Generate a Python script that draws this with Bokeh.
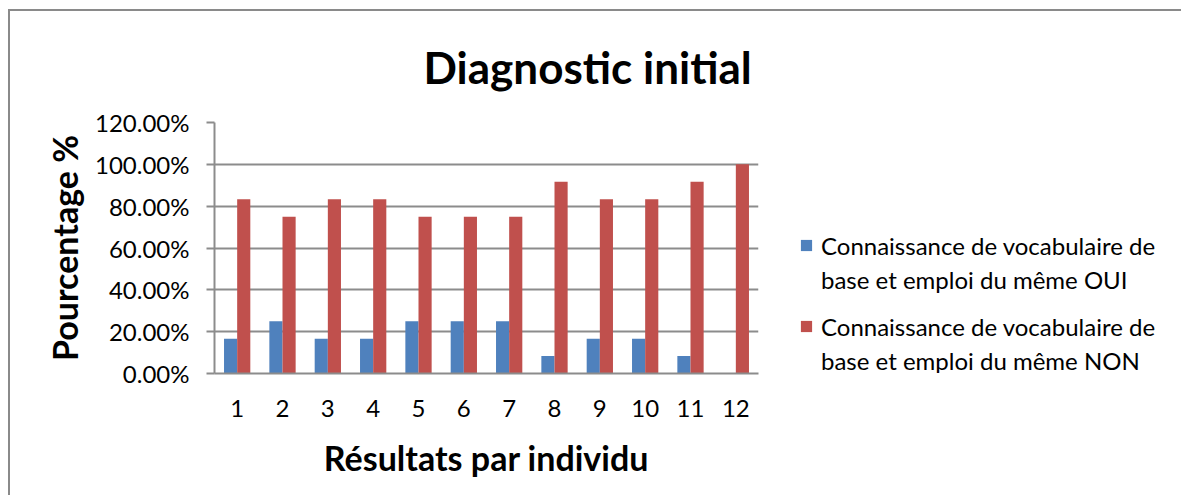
from bokeh.plotting import figure
from bokeh.layouts import row
from bokeh.models import (FactorRange, Range1d, FixedTicker, NumeralTickFormatter,
                          ColumnDataSource, Legend, LegendItem)
from bokeh.transform import dodge
from bokeh.embed import file_html
from bokeh.resources import INLINE

categories = ["1", "2", "3", "4", "5", "6", "7", "8", "9", "10", "11", "12"]
oui = [0.1667, 0.25, 0.1667, 0.1667, 0.25, 0.25, 0.25, 0.0833, 0.1667, 0.1667, 0.0833, 0.0]
non = [0.8333, 0.75, 0.8333, 0.8333, 0.75, 0.75, 0.75, 0.9167, 0.8333, 0.8333, 0.9167, 1.0]
y_ticks = [0, 0.2, 0.4, 0.6, 0.8, 1.0, 1.2]
label_oui = ["Connaissance de vocabulaire de", "base et emploi du même OUI"]
label_non = ["Connaissance de vocabulaire de", "base et emploi du même NON"]

FONT = "Lato"
GRID = "#8c8c8c"
BLUE = "#4F81BD"
RED = "#C0504D"

src = ColumnDataSource(dict(cat=categories, oui=oui, non=non))

p = figure(x_range=FactorRange(*categories, range_padding=0),
           y_range=Range1d(0, 1.2), output_backend="svg", toolbar_location=None,
           frame_width=544, frame_height=251,
           min_border_left=204, min_border_top=111, min_border_right=6, min_border_bottom=122)

p.title.text = "Diagnostic initial"
p.title.text_font = FONT
p.title.text_font_size = "44px"
p.title.text_font_style = "bold"
p.title.text_color = "#000000"
p.title.align = "left"
p.title.vertical_align = "top"
p.title.offset = 209
p.title.standoff = 56

p.vbar(x=dodge("cat", -0.145, range=p.x_range), top="oui", width=0.29, source=src,
       fill_color=BLUE, line_color=None)
p.vbar(x=dodge("cat", 0.145, range=p.x_range), top="non", width=0.29, source=src,
       fill_color=RED, line_color=None)

p.outline_line_color = None
p.xgrid.grid_line_color = None
p.ygrid.grid_line_color = GRID
p.ygrid.grid_line_width = 2

p.yaxis.ticker = FixedTicker(ticks=y_ticks)
p.yaxis.formatter = NumeralTickFormatter(format="0.00%")
p.yaxis.axis_line_color = GRID
p.yaxis.axis_line_width = 2
p.yaxis.major_tick_line_color = GRID
p.yaxis.major_tick_line_width = 2
p.yaxis.major_tick_out = 8
p.yaxis.major_tick_in = 0
p.yaxis.minor_tick_line_color = None
p.yaxis.major_label_standoff = 17
p.yaxis.major_label_text_font = FONT
p.yaxis.major_label_text_font_size = "24px"
p.yaxis.major_label_text_color = "#000000"
p.yaxis.axis_label = "Pourcentage %"
p.yaxis.axis_label_text_font = FONT
p.yaxis.axis_label_text_font_size = "34px"
p.yaxis.axis_label_text_font_style = "bold"
p.yaxis.axis_label_text_color = "#000000"
p.yaxis.axis_label_standoff = 7

p.xaxis.axis_line_color = GRID
p.xaxis.axis_line_width = 2
p.xaxis.major_tick_line_color = None
p.xaxis.minor_tick_line_color = None
p.xaxis.major_label_standoff = 20
p.xaxis.major_label_text_font = FONT
p.xaxis.major_label_text_font_size = "24px"
p.xaxis.major_label_text_color = "#000000"
p.xaxis.axis_label = "Résultats par individu"
p.xaxis.axis_label_text_font = FONT
p.xaxis.axis_label_text_font_size = "34px"
p.xaxis.axis_label_text_font_style = "bold"
p.xaxis.axis_label_text_color = "#000000"
p.xaxis.axis_label_standoff = 17

# legend panel: a second figure holding only the legends
q = figure(width=417, height=484, x_range=FactorRange(*categories), y_range=Range1d(0, 1.2),
           output_backend="svg", toolbar_location=None,
           x_axis_location=None, y_axis_location=None, min_border=0)
q.outline_line_color = None
q.grid.visible = False
q1 = q.vbar(x="cat", top="oui", width=0.29, source=src, fill_color=BLUE, line_color=None,
            visible=False)
q2 = q.vbar(x="cat", top="non", width=0.29, source=src, fill_color=RED, line_color=None,
            visible=False)
blank = q.vbar(x="cat", top="oui", width=0.01, source=src, fill_alpha=0, line_alpha=0,
               visible=False)


def make_legend(lines, renderer, loc):
    return Legend(items=[LegendItem(label=lines[0], renderers=[renderer]),
                         LegendItem(label=lines[1], renderers=[blank])],
                  location=loc, glyph_width=14, glyph_height=14,
                  label_text_font=FONT, label_text_font_size="24px",
                  label_text_color="#000000", label_height=34,
                  label_standoff=8, spacing=0, padding=0, margin=0,
                  inactive_fill_alpha=0,
                  border_line_color=None, background_fill_alpha=0)


q.add_layout(make_legend(label_oui, q1, (35, 77)), "center")
q.add_layout(make_legend(label_non, q2, (35, -4)), "center")

layout = row(p, q, styles={"border-top": "2px solid #8a8a8a", "border-left": "2px solid #8a8a8a",
                           "margin-left": "8px", "margin-top": "9px"})

open("out.html", "w").write(file_html(layout, INLINE))
